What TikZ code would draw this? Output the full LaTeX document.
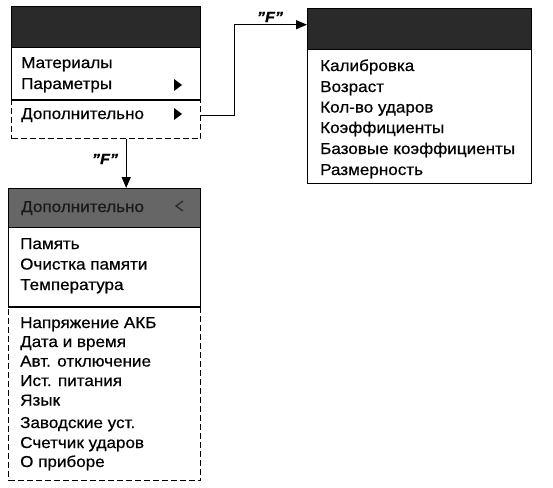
\documentclass[tikz,border=0pt]{standalone}
\usepackage{fontspec}
\setmainfont{Liberation Sans}[FakeStretch=1.08,FakeBold=0.6]
\usetikzlibrary{arrows.meta,calc}
\definecolor{bardark}{HTML}{2A2A2A}
\definecolor{barmid}{HTML}{666666}
\begin{document}
\begin{tikzpicture}[x=1pt,y=-1pt,
  box/.style={draw, line width=1.4pt, anchor=north west, inner sep=0pt, rectangle},
  bar/.style={box, fill=bardark},
  solidpart/.style={box, fill=white},
  dashpart/.style={box, dash pattern=on 6pt off 3pt},
  item/.style={anchor=base west, inner sep=0pt, font=\fontsize{15.8}{18}\selectfont},
  conn/.style={line width=1.4pt, -{Triangle[length=11pt,width=9pt]}},
  lbl/.style={font=\fontsize{15}{16}\selectfont\bfseries\itshape, inner sep=0pt},
  tri/.style={fill=black}
]
\useasboundingbox (0,0) rectangle (553,487);

% Box A
\node[bar, minimum width=189pt, minimum height=41pt] (atitle) at (11,6) {};
\node[solidpart, minimum width=189pt, minimum height=53pt] (abody) at (11,47) {};
\node[dashpart, minimum width=189pt, minimum height=38pt] (adash) at (11,100) {};
\draw[line width=1.4pt] (adash.north west) -- (adash.north east);
\node[item] (a1) at (21,68) {Материалы};
\node[item] (a2) at (21,89) {Параметры};
\node[item] (a3) at (21,119) {Дополнительно};
\fill[tri] (174,79) -- (174,91) -- (182,85) -- cycle;
\fill[tri] (174,108) -- (174,120) -- (182,114) -- cycle;

% Box B
\node[bar, minimum width=224pt, minimum height=41pt] (btitle) at (307,8) {};
\node[solidpart, minimum width=224pt, minimum height=134pt] (bbody) at (307,49) {};
\node[item] (b1) at (320,71) {Калибровка};
\node[item] (b2) at (320,92) {Возраст};
\node[item] (b3) at (320,112.5) {Кол-во ударов};
\node[item] (b4) at (320,133) {Коэффициенты};
\node[item] (b5) at (320,154) {Базовые коэффициенты};
\node[item] (b6) at (320,175) {Размерность};

% Box C
\node[bar, fill=barmid, minimum width=192pt, minimum height=39pt] (ctitle) at (8,188) {};
\node[item, text=black!90] (ct) at (21,212) {Дополнительно};
\draw[line width=1.2pt, black!85] (183,201) -- (176,206) -- (183,211);
\node[solidpart, minimum width=192pt, minimum height=80pt] (cbody) at (8,227) {};
\node[dashpart, minimum width=192pt, minimum height=173pt] (cdash) at (8,307) {};
\draw[line width=1.4pt] (cdash.north west) -- (cdash.north east);
\node[item] (c1) at (20,249) {Память};
\node[item] (c2) at (20,269.5) {Очистка памяти};
\node[item] (c3) at (20,290) {Температура};
\node[item] (c4) at (20,328) {Напряжение АКБ};
\node[item] (c5) at (20,347) {Дата и время};
\node[item] (c6) at (20,366.5) {Авт. отключение};
\node[item] (c7) at (20,386) {Ист. питания};
\node[item] (c8) at (20,405.5) {Язык};
\node[item] (c9) at (20,428) {Заводские уст.};
\node[item] (c10) at (20,448) {Счетчик ударов};
\node[item] (c11) at (20,467) {О приборе};

% Connectors
\draw[conn] ([yshift=4pt]adash.east) -- ++(33,0) |- ([yshift=4.5pt]btitle.west);
\node[lbl] (f1) at (270,17) {"F"};
\draw[conn] ([xshift=20pt]adash.south) -- ([xshift=20pt]adash.south |- ctitle.north);
\node[lbl] (f2) at (105,159) {"F"};
\end{tikzpicture}
\end{document}
